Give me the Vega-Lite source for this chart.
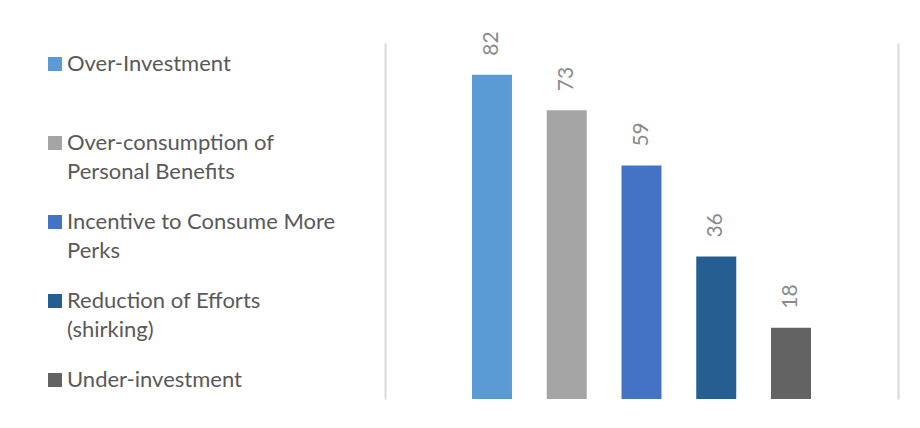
{
  "$schema": "https://vega.github.io/schema/vega-lite/v6.json",
  "width": 513,
  "height": 356,
  "autosize": {"type": "none"},
  "padding": {"left": 385, "top": 43, "right": 22, "bottom": 29},
  "background": "white",
  "config": {"view": {"stroke": null}, "font": "Lato", "style": {"guide-label": {"lineHeight": 28.5}}},
  "data": {
    "values": [
      {"category": "Over-Investment", "value": 82, "order": 1},
      {"category": "Over-consumption of Personal Benefits", "value": 73, "order": 2},
      {"category": "Incentive to Consume More Perks", "value": 59, "order": 3},
      {"category": "Reduction of Efforts (shirking)", "value": 36, "order": 4},
      {"category": "Under-investment", "value": 18, "order": 5}
    ]
  },
  "layer": [
    {
      "mark": {"type": "bar"},
      "encoding": {
        "x": {"field": "category", "type": "nominal", "sort": {"field": "order"}, "axis": null,
              "scale": {"type": "band", "range": [87, 426], "paddingInner": 0.465, "paddingOuter": 0, "round": false}},
        "y": {"field": "value", "type": "quantitative", "scale": {"domain": [0, 90], "nice": false},
              "axis": {"orient": "left", "domain": true, "domainColor": "#d9d9d9", "domainWidth": 2, "ticks": false, "labels": false, "grid": false, "title": null}},
        "color": {
          "field": "category", "type": "nominal", "sort": {"field": "order"},
          "scale": {
            "domain": ["Over-Investment", "Over-consumption of Personal Benefits", "Incentive to Consume More Perks", "Reduction of Efforts (shirking)", "Under-investment"],
            "range": ["#5B9BD5", "#A5A5A5", "#4472C4", "#255E91", "#636363"]
          },
          "legend": {
            "title": null,
            "orient": "none",
            "legendX": -341,
            "legendY": 10,
            "padding": 0,
            "symbolType": "square",
            "symbolSize": 196,
            "symbolStrokeWidth": 0,
            "symbolOpacity": 1,
            "labelFontSize": 22,
            "labelColor": "#595959",
            "labelOffset": 1,
            "labelLimit": 400,
            "rowPadding": 28,
            "labelExpr": "datum.label == 'Over-Investment' ? ['Over-Investment', ' '] : datum.label == 'Over-consumption of Personal Benefits' ? ['Over-consumption of', 'Personal Benefits'] : datum.label == 'Incentive to Consume More Perks' ? ['Incentive to Consume More', 'Perks'] : datum.label == 'Reduction of Efforts (shirking)' ? ['Reduction of Efforts', '(shirking)'] : [datum.label, ' ']"
          }
        }
      }
    },
    {
      "mark": {"type": "text", "angle": 270, "align": "left", "baseline": "middle", "dx": 19, "fontSize": 21, "color": "#8a8a8a"},
      "encoding": {
        "x": {"field": "category", "type": "nominal", "sort": {"field": "order"}, "axis": null},
        "y": {"field": "value", "type": "quantitative",
              "axis": {"orient": "right", "domain": true, "domainColor": "#d9d9d9", "domainWidth": 2, "ticks": false, "labels": false, "grid": false, "title": null}},
        "text": {"field": "value", "type": "quantitative"}
      }
    }
  ],
  "resolve": {"axis": {"y": "independent"}}
}
